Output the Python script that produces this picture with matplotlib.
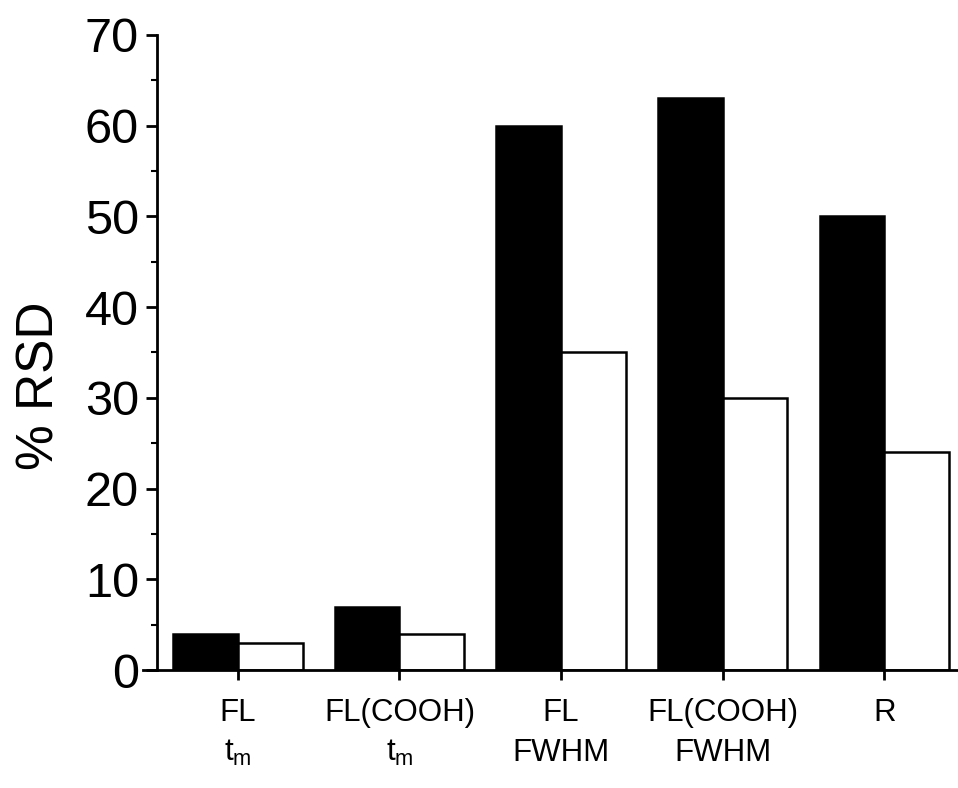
import matplotlib
matplotlib.use("Agg")
import matplotlib.pyplot as plt
import numpy as np

plt.rcParams['font.family'] = ['Liberation Sans', 'DejaVu Sans']

# data
categories = ["FL\n$\\mathregular{t_m}$", "FL(COOH)\n$\\mathregular{t_m}$",
              "FL\nFWHM", "FL(COOH)\nFWHM", "R"]
black_vals = [4, 7, 60, 63, 50]
white_vals = [3, 4, 35, 30, 24]

fig = plt.figure(figsize=(9.58, 7.88), dpi=100)
ax = fig.add_axes([0.1493, 0.1497, 0.858, 0.806])

x = np.arange(len(categories))
w = 0.4
ax.bar(x - w / 2, black_vals, w, color='black', edgecolor='black', linewidth=1.8)
ax.bar(x + w / 2, white_vals, w, color='white', edgecolor='black', linewidth=1.8)

ax.set_xlim(-0.587, 4.5)
ax.set_ylim(0, 70)

for s in ['top', 'right']:
    ax.spines[s].set_visible(False)
ax.spines['left'].set_position(('data', -0.5))
ax.spines['left'].set_linewidth(2)
ax.spines['bottom'].set_linewidth(2)

ax.set_yticks(np.arange(0, 71, 10))
ax.set_yticks(np.arange(5, 70, 10), minor=True)
ax.tick_params(axis='y', which='major', direction='out', length=8, width=2,
               labelsize=35, pad=5)
ax.tick_params(axis='y', which='minor', direction='out', length=4, width=1.5)

# x labels drawn by hand (two lines, centred under each tick)
ax.set_xticks(x)
ax.set_xticklabels([])
ax.tick_params(axis='x', which='major', direction='out', length=7, width=2)
for xi, lab in zip(x, categories):
    ax.annotate(lab, xy=(xi, 0), xycoords=('data', 'axes fraction'),
                xytext=(0, -20), textcoords='offset points',
                ha='center', va='top', fontsize=22.5, linespacing=1.45,
                annotation_clip=False)

ax.set_ylabel("% RSD", fontsize=37)
ax.yaxis.set_label_coords(-0.096, 0.447)

fig.savefig("out.png", dpi=100)
